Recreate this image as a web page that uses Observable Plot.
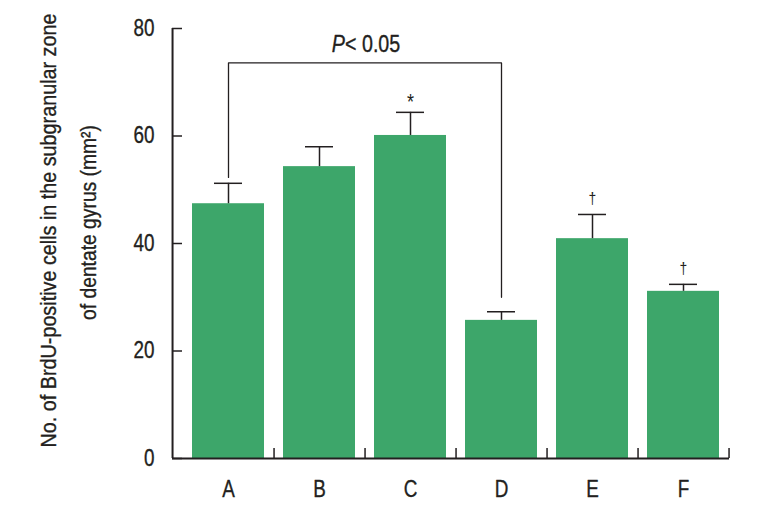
<!DOCTYPE html>
<html>
<head>
<meta charset="utf-8">
<script src="https://cdn.jsdelivr.net/npm/d3@7"></script>
<script src="https://cdn.jsdelivr.net/npm/@observablehq/plot@0.6"></script>
<style>
  html, body { margin: 0; padding: 0; background: #fff; }
  #chart svg { display: block; }
</style>
</head>
<body>
<div id="chart"></div>
<script>
// ---- data ----
const categories = ["A", "B", "C", "D", "E", "F"];
const means = [47.4, 54.3, 60.1, 25.7, 40.9, 31.1];
const errors = [3.8, 3.7, 4.3, 1.6, 4.5, 1.3];
const markers = ["", "", "*", "", "†", "†"];
const yTicks = [0, 20, 40, 60, 80];
const bracketCats = ["A", "A", "D", "D"];
const bracketVals = [52.3, 73.6, 73.6, 30.0];
const sigItalic = "P";
const sigRest = "< 0.05";
const yLabelLines = ["No. of BrdU-positive cells in the subgranular zone", "of dentate gyrus (mm²)"];

// ---- layout ----
const W = 767, H = 519;
const mL = 172, mR = 38, mT = 28, mB = 61;
const xStart = 182.4, xEnd = W - mR;
const padIn = 0.21;
const step = (xEnd - xStart) / categories.length;
const plotW = W - mL - mR, plotH = H - mT - mB;
const font = "'Liberation Sans', Arial, sans-serif";
const ink = "#231f20";
const green = "#3da66a";
const textStroke = {stroke: ink, strokeWidth: 0.35};

const data = categories.map((c, i) => ({cat: c, mean: means[i], upper: means[i] + errors[i], marker: markers[i]}));
const bracket = bracketCats.map((c, i) => ({cat: c, v: bracketVals[i]}));
const sigLabel = sigItalic + sigRest;

const chart = Plot.plot({
  width: W, height: H,
  marginLeft: mL, marginRight: mR, marginTop: mT, marginBottom: mB,
  style: {fontFamily: font, background: "#fff", color: ink},
  x: {type: "band", domain: categories, range: [xStart, xEnd], paddingInner: padIn, paddingOuter: padIn / 2, axis: null},
  y: {domain: [0, 80], axis: null},
  marks: [
    Plot.barY(data, {x: "cat", y: "mean", fill: green}),
    Plot.ruleX(data, {x: "cat", y1: "mean", y2: "upper", stroke: ink, strokeWidth: 1.5}),
    Plot.tickY(data, {x: "cat", y: "upper", stroke: ink, strokeWidth: 1.5, insetLeft: 22, insetRight: 22}),
    Plot.text(data.filter(d => d.marker === "*"), {x: "cat", y: "upper", text: "marker", dy: -10, lineAnchor: "middle", fontSize: 22, fill: ink}),
    Plot.text(data.filter(d => d.marker === "†"), {x: "cat", y: "upper", text: "marker", dy: -16, lineAnchor: "middle", fontSize: 17, fill: ink}),
    Plot.line(bracket, {x: "cat", y: "v", stroke: ink, strokeWidth: 1.3}),
    // axes
    Plot.ruleY([0], {stroke: ink, strokeWidth: 2}),
    Plot.ruleX([categories[0]], {stroke: ink, strokeWidth: 2, dx: mL - (xStart + step / 2)}),
    Plot.ruleY(yTicks, {y: d => d, stroke: ink, strokeWidth: 1.5, insetRight: plotW - 10}),
    Plot.ruleX(categories, {x: d => d, dx: step / 2, stroke: ink, strokeWidth: 1.5, insetTop: plotH - 10}),
    Plot.text(yTicks, {y: d => d, text: d => String(d), frameAnchor: "left", dx: -18, textAnchor: "end", lineAnchor: "middle", fontSize: 23, fill: ink, ...textStroke}),
    Plot.text(categories, {x: d => d, text: d => d, frameAnchor: "bottom", dy: 31, lineAnchor: "middle", fontSize: 23, fill: ink, ...textStroke}),
    // significance label
    Plot.text([sigLabel], {x: () => "B", text: d => d, frameAnchor: "top", dx: step / 2 + 1, dy: 16, textAnchor: "middle", lineAnchor: "middle", fontSize: 24, fill: ink, ...textStroke}),
    // y label (two lines)
    Plot.text([yLabelLines[0]], {text: d => d, frameAnchor: "left", rotate: -90, dx: -124, dy: -13, textAnchor: "middle", lineAnchor: "middle", fontSize: 22, fill: ink, ...textStroke}),
    Plot.text([yLabelLines[1]], {text: d => d, frameAnchor: "left", rotate: -90, dx: -84, dy: -21, textAnchor: "middle", lineAnchor: "middle", fontSize: 22, fill: ink, ...textStroke})
  ]
});
document.getElementById("chart").appendChild(chart);

// italic "P" inside the significance label
chart.querySelectorAll("text").forEach(t => {
  if (t.textContent === sigLabel) {
    t.textContent = "";
    const ns = "http://www.w3.org/2000/svg";
    const tp = document.createElementNS(ns, "tspan");
    tp.setAttribute("font-style", "italic");
    tp.textContent = sigItalic;
    t.appendChild(tp);
    t.appendChild(document.createTextNode(sigRest));
  }
});

// condensed typeface look: compress glyphs horizontally
const targetLengths = {[yLabelLines[0]]: 434, [yLabelLines[1]]: 195};
chart.querySelectorAll("text").forEach(t => {
  const s = t.textContent;
  const L = t.getComputedTextLength();
  if (!(L > 0)) return;
  const target = targetLengths[s] !== undefined ? targetLengths[s] : L * 0.82;
  const tr = t.getAttribute("transform");
  if (tr && tr.includes("rotate")) {
    t.setAttribute("transform", tr + ` scale(${target / L},1)`);
  } else {
    t.setAttribute("textLength", target);
    t.setAttribute("lengthAdjust", "spacingAndGlyphs");
  }
});
</script>
</body>
</html>
